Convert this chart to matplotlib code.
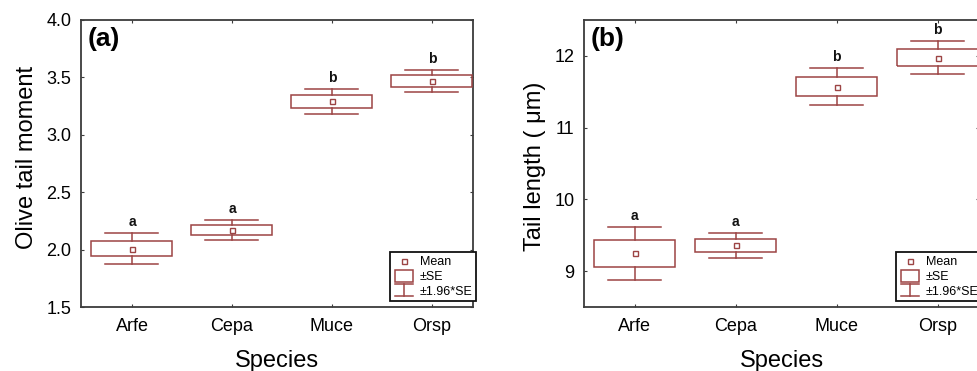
import matplotlib
matplotlib.use('Agg')
import matplotlib.pyplot as plt
from matplotlib.lines import Line2D
from matplotlib.patches import Rectangle
from matplotlib.legend_handler import HandlerBase

plt.rcParams['font.family'] = ['Liberation Sans', 'DejaVu Sans']

# ---------------- data ----------------
species = ['Arfe', 'Cepa', 'Muce', 'Orsp']

tm_mean = [2.009, 2.170, 3.292, 3.468]      # Olive tail moment
tm_se = [0.069, 0.044, 0.056, 0.049]
tm_letters = ['a', 'a', 'b', 'b']
tm_yticks = [1.5, 2.0, 2.5, 3.0, 3.5, 4.0]
tm_yticklabels = ['1.5', '2.0', '2.5', '3.0', '3.5', '4.0']

tl_mean = [9.247, 9.360, 11.568, 11.977]    # Tail length (um)
tl_se = [0.188, 0.087, 0.131, 0.114]
tl_letters = ['a', 'a', 'b', 'b']
tl_yticks = [9, 10, 11, 12]
tl_yticklabels = ['9', '10', '11', '12']

legend_labels = ['Mean', '\u00b1SE', '\u00b11.96*SE']

# ---------------- style ----------------
COL = '#9c4444'
SPINE = '#3c3c3c'
LW = 1.1
BOX_W = 0.81
CAP_W = 0.53


class HandlerBox(HandlerBase):
    def create_artists(self, legend, orig_handle, xd, yd, w, h, fontsize, trans):
        r = Rectangle((xd + 0.05 * w, yd - 0.2 * h), 0.9 * w, 1.35 * h,
                      facecolor='none', edgecolor=COL, lw=LW, transform=trans)
        return [r]


class HandlerWhisk(HandlerBase):
    def create_artists(self, legend, orig_handle, xd, yd, w, h, fontsize, trans):
        top = yd + 1.15 * h
        bot = yd - 0.15 * h
        l1 = Line2D([xd + 0.05 * w, xd + 0.95 * w], [top, top], color=COL, lw=LW, transform=trans)
        l2 = Line2D([xd + 0.5 * w, xd + 0.5 * w], [top, bot], color=COL, lw=LW, transform=trans)
        l3 = Line2D([xd + 0.05 * w, xd + 0.95 * w], [bot, bot], color=COL, lw=LW, transform=trans)
        return [l1, l2, l3]


class BoxKey:
    pass


class WhiskKey:
    pass


def panel(ax, means, ses, letters, yticks, yticklabels, ylim, xlim, ylabel, tag, ylab_y):
    xs = list(range(len(species)))
    for x, m, se, let in zip(xs, means, ses, letters):
        ax.add_patch(Rectangle((x - BOX_W / 2, m - se), BOX_W, 2 * se,
                               facecolor='none', edgecolor=COL, lw=LW, zorder=3))
        hi = m + 1.96 * se
        lo = m - 1.96 * se
        ax.plot([x, x], [m + se, hi], color=COL, lw=LW, zorder=3)
        ax.plot([x, x], [m - se, lo], color=COL, lw=LW, zorder=3)
        ax.plot([x - CAP_W / 2, x + CAP_W / 2], [hi, hi], color=COL, lw=LW, zorder=3)
        ax.plot([x - CAP_W / 2, x + CAP_W / 2], [lo, lo], color=COL, lw=LW, zorder=3)
        ax.annotate(let, (x, hi), xytext=(0, 3), textcoords='offset points',
                    ha='center', va='bottom', fontsize=10, fontweight='bold', color='#111111')
    ax.plot(xs, means, ls='none', marker='s', ms=3.6, mfc='white', mec=COL, mew=1.0, zorder=4)

    ax.set_xlim(*xlim)
    ax.set_ylim(*ylim)
    ax.set_xticks(xs)
    ax.set_xticklabels(species, fontsize=13)
    ax.set_yticks(yticks)
    ax.set_yticklabels(yticklabels, fontsize=13)
    ax.tick_params(direction='in', length=2.5, width=0.8, color=SPINE,
                   top=True, right=True, pad=7)
    ax.tick_params(axis='x', pad=8)
    for s in ax.spines.values():
        s.set_color(SPINE)
        s.set_linewidth(1.3)
    ax.set_xlabel('Species', fontsize=17, labelpad=11)
    ax.set_ylabel(ylabel, fontsize=17, labelpad=6)
    ax.yaxis.label.set_y(ylab_y)
    ax.text(0.016, 0.975, tag, transform=ax.transAxes, fontsize=19, fontweight='bold',
            ha='left', va='top')

    mean_h = Line2D([], [], ls='none', marker='s', ms=3.6, mfc='white', mec=COL, mew=1.0)
    leg = ax.legend([mean_h, BoxKey(), WhiskKey()], legend_labels,
                    handler_map={BoxKey: HandlerBox(), WhiskKey: HandlerWhisk()},
                    loc='lower right', bbox_to_anchor=(1.008, 0.02), borderaxespad=0,
                    prop={'size': 9}, frameon=True, fancybox=False, framealpha=1,
                    edgecolor='#111111', handlelength=1.6, handletextpad=0.45,
                    labelspacing=0.22, borderpad=0.3)
    leg.get_frame().set_linewidth(1.3)
    leg.set_zorder(5)


fig = plt.figure(figsize=(9.78, 3.71), dpi=100)
H = 371.0
W = 978.0
ax1 = fig.add_axes([81 / W, 64 / H, 392 / W, 287 / H])
ax2 = fig.add_axes([584 / W, 64 / H, 395 / W, 287 / H])

panel(ax1, tm_mean, tm_se, tm_letters, tm_yticks, tm_yticklabels, (1.5, 4.0), (-0.51, 3.41),
      'Olive tail moment', '(a)', 0.52)
panel(ax2, tl_mean, tl_se, tl_letters, tl_yticks, tl_yticklabels, (8.5, 12.5), (-0.5, 3.41),
      'Tail length ( \u03bcm)', '(b)', 0.49)

fig.savefig('out.png', dpi=100)
